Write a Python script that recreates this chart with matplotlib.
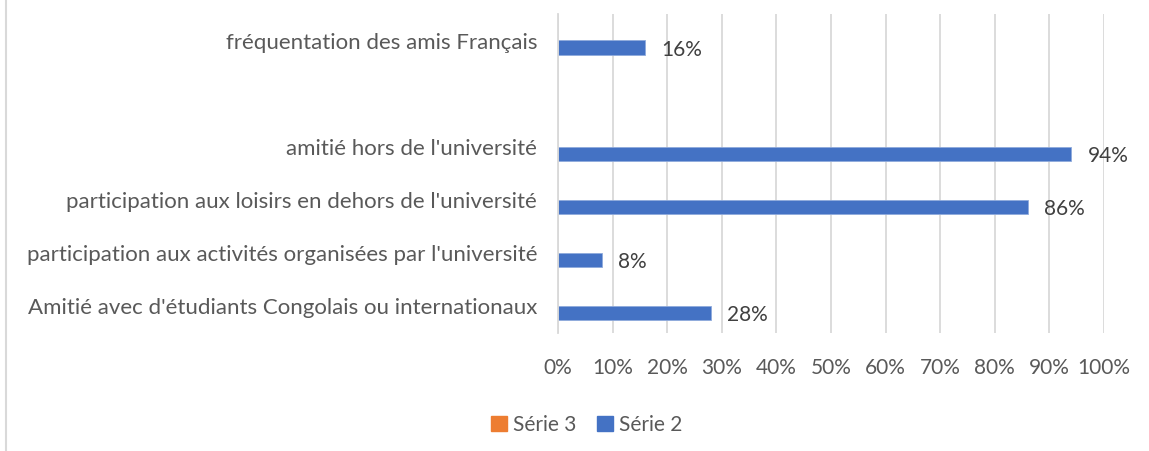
import numpy as np
import matplotlib
matplotlib.use("Agg")
import matplotlib.pyplot as plt
from matplotlib.lines import Line2D
from matplotlib.patches import Patch

categories = [
    "Amitié avec d'étudiants Congolais ou internationaux",
    "participation aux activités organisées par l'université",
    "participation aux loisirs en dehors de l'université",
    "amitié hors de l'université",
    "",
    "fréquentation des amis Français",
]
serie2 = [28, 8, 86, 94, np.nan, 16]
serie3 = [np.nan] * 6
ticks = list(range(0, 101, 10))

plt.rcParams['font.family'] = ['Lato', 'DejaVu Sans']
text_col = '#595959'
blue = '#4472C4'
orange = '#ED7D31'
fs = 15

fig = plt.figure(figsize=(11.49, 4.51), dpi=100)
ax = fig.add_axes([558 / 1149, 1 - 333 / 451, (1104 - 558) / 1149, (333 - 14) / 451])

y = np.arange(len(categories))
h = 0.265
ax.barh(y + 0.135, serie3, height=h, color=orange)
ax.barh(y - 0.13, serie2, height=h, color=blue, edgecolor='#8FAADC', linewidth=0.6)

for yi, v in zip(y, serie2):
    if not np.isnan(v):
        ax.text(v + 3.0, yi - 0.17, f"{v:.0f}%", va='center', ha='left',
                fontsize=fs, color='#404040')

ax.set_xlim(0, 100)
ax.set_ylim(-0.5, len(categories) - 0.5)
ax.set_xticks(ticks)
ax.set_xticklabels([f"{t}%" for t in ticks], fontsize=fs, color=text_col)
ax.set_yticks(y)
ax.set_yticklabels(categories, fontsize=16.0, color=text_col)
ax.tick_params(axis='both', length=0)
ax.tick_params(axis='x', pad=18)
ax.tick_params(axis='y', pad=15)
ax.grid(axis='x', color='#D9D9D9', linewidth=1.3)
ax.set_axisbelow(True)
for s in ['top', 'right', 'bottom']:
    ax.spines[s].set_visible(False)
ax.spines['left'].set_color('#D9D9D9')
ax.spines['left'].set_linewidth(1.3)

handles = [Patch(color=orange), Patch(color=blue)]
fig.legend(handles, ['Série 3', 'Série 2'], loc='center', bbox_to_anchor=(587 / 1149, 1 - 425 / 451),
           ncol=2, frameon=False, fontsize=fs, labelcolor=text_col,
           handlelength=0.75, handleheight=0.75, handletextpad=0.3, columnspacing=1.0)

fig.add_artist(Line2D([6 / 1149, 6 / 1149], [0, 1], color='#D9D9D9', linewidth=1.5))

fig.savefig('out.png', dpi=100)
